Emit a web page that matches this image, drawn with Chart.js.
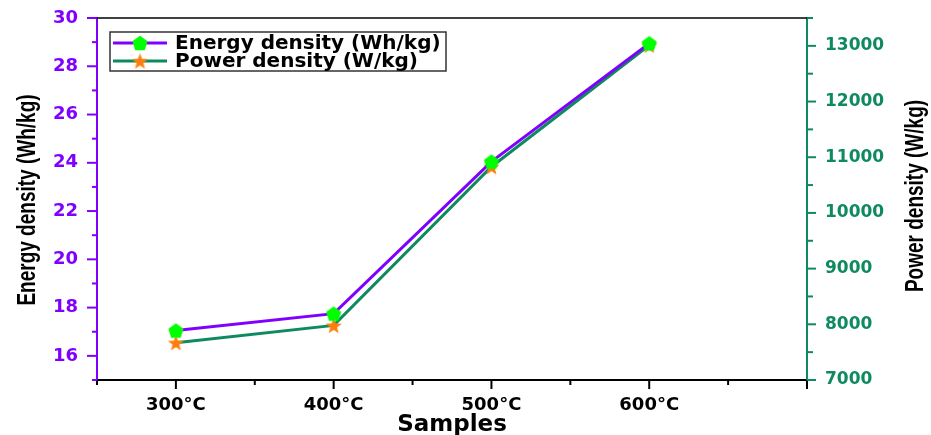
<!DOCTYPE html>
<html>
<head>
<meta charset="utf-8">
<script src="https://cdn.jsdelivr.net/npm/chart.js@4/dist/chart.umd.min.js"></script>
<style>
  html, body { margin: 0; padding: 0; background: #ffffff; }
  #wrap { width: 931px; height: 435px; }
</style>
</head>
<body>
<div id="wrap"><canvas id="c" width="931" height="435"></canvas></div>
<script>
// ---- data ----
const categories = ['300°C', '400°C', '500°C', '600°C'];
const categoryPositions = [1, 2, 3, 4];
const energyDensity = [17.05, 17.75, 24.05, 28.95];      // Wh/kg (left axis)
const powerDensity = [7670, 7980, 10830, 13010];        // W/kg (right axis)
const energyLabel = 'Energy density (Wh/kg)';
const powerLabel = 'Power density (W/kg)';

const PURPLE = '#8000FF';
const TEAL = '#0E8A5E';
const GREEN_MARK = '#00FF00';
const ORANGE_MARK = '#FF7F0E';
const TICK_FONT = "'DejaVu Sans', sans-serif";
const TITLE_FONT = "'Liberation Sans', Arial, sans-serif";

function makePentagon(r, color) {
  const s = Math.ceil(r * 2 + 2);
  const cv = document.createElement('canvas');
  cv.width = s; cv.height = s;
  const g = cv.getContext('2d');
  g.fillStyle = color;
  g.beginPath();
  for (let i = 0; i < 5; i++) {
    const a = -Math.PI / 2 + i * 2 * Math.PI / 5;
    const x = s / 2 + r * Math.cos(a), y = s / 2 + r * Math.sin(a) + r * 0.1;
    i ? g.lineTo(x, y) : g.moveTo(x, y);
  }
  g.closePath(); g.fill();
  return cv;
}
function makeStar(r, color) {
  const s = Math.ceil(r * 2 + 2);
  const cv = document.createElement('canvas');
  cv.width = s; cv.height = s;
  const g = cv.getContext('2d');
  g.fillStyle = color;
  g.beginPath();
  for (let i = 0; i < 10; i++) {
    const rr = i % 2 ? r * 0.42 : r;
    const a = -Math.PI / 2 + i * Math.PI / 5;
    const x = s / 2 + rr * Math.cos(a), y = s / 2 + rr * Math.sin(a) + r * 0.1;
    i ? g.lineTo(x, y) : g.moveTo(x, y);
  }
  g.closePath(); g.fill();
  return cv;
}
const pentImg = makePentagon(8, GREEN_MARK);
const starImg = makeStar(8.5, ORANGE_MARK);

const energyPoints = categoryPositions.map((x, i) => ({ x, y: energyDensity[i] }));
const powerPoints = categoryPositions.map((x, i) => ({ x, y: powerDensity[i] }));

function drawVerticalTitle(ctx, text, cx, cy) {
  ctx.save();
  ctx.fillStyle = '#000';
  ctx.font = "bold 19px " + TITLE_FONT;
  ctx.textAlign = 'center'; ctx.textBaseline = 'middle';
  ctx.translate(cx, cy);
  ctx.rotate(-Math.PI / 2);
  ctx.scale(1, 1.4);
  ctx.fillText(text, 0, 0);
  ctx.restore();
}

// custom tick marks (major + minor), top frame, axis titles, in-plot legend
const decorPlugin = {
  id: 'decor',
  afterDraw(chart) {
    const ctx = chart.ctx;
    const ca = chart.chartArea;
    const xs = chart.scales.x, yl = chart.scales.y, yr = chart.scales.y1;
    ctx.save();
    // top frame
    ctx.strokeStyle = '#000'; ctx.lineWidth = 1.5;
    ctx.beginPath(); ctx.moveTo(ca.left, ca.top); ctx.lineTo(ca.right, ca.top); ctx.stroke();
    // x ticks
    ctx.lineWidth = 2; ctx.strokeStyle = '#000';
    for (let v = xs.min; v <= xs.max + 1e-9; v += 0.5) {
      const px = xs.getPixelForValue(v);
      const len = Number.isInteger(v) ? 9 : 5;
      ctx.beginPath(); ctx.moveTo(px, ca.bottom); ctx.lineTo(px, ca.bottom + len); ctx.stroke();
    }
    // left y ticks
    ctx.strokeStyle = PURPLE;
    for (let v = yl.min; v <= yl.max + 1e-9; v += 1) {
      const py = yl.getPixelForValue(v);
      const len = v % 2 === 0 ? 10 : 5;
      ctx.beginPath(); ctx.moveTo(ca.left, py); ctx.lineTo(ca.left - len, py); ctx.stroke();
    }
    // right y ticks
    ctx.strokeStyle = TEAL;
    for (let v = yr.min; v <= yr.max + 1e-9; v += 500) {
      const py = yr.getPixelForValue(v);
      const len = v % 1000 === 0 ? 9 : 6;
      ctx.beginPath(); ctx.moveTo(ca.right, py); ctx.lineTo(ca.right + len, py); ctx.stroke();
    }
    ctx.restore();

    // vertical axis titles (both read bottom-to-top)
    drawVerticalTitle(ctx, energyLabel, yl.left + 28, (ca.top + ca.bottom) / 2 + 1);
    drawVerticalTitle(ctx, powerLabel, yr.right - 15, (ca.top + ca.bottom) / 2 - 3);

    // legend
    ctx.save();
    const bx = ca.left + 13, by = ca.top + 14, bw = 336, bh = 39;
    ctx.strokeStyle = '#333'; ctx.lineWidth = 1.5;
    ctx.strokeRect(bx, by, bw, bh);
    const rows = [
      { label: energyLabel, color: PURPLE, img: pentImg, y: by + 11 },
      { label: powerLabel, color: TEAL, img: starImg, y: by + 29 }
    ];
    ctx.font = "bold 20px " + TICK_FONT;
    ctx.textBaseline = 'middle'; ctx.textAlign = 'left';
    rows.forEach(r => {
      ctx.strokeStyle = r.color; ctx.lineWidth = 3;
      ctx.beginPath(); ctx.moveTo(bx + 3, r.y); ctx.lineTo(bx + 57, r.y); ctx.stroke();
      ctx.drawImage(r.img, bx + 30 - r.img.width / 2, r.y - r.img.height / 2);
      ctx.fillStyle = '#000';
      ctx.fillText(r.label, bx + 65, r.y + 1);
    });
    ctx.restore();
  }
};

const zeroPad = (s) => { s.paddingTop = 0; s.paddingBottom = 0; };

new Chart(document.getElementById('c'), {
  type: 'line',
  data: {
    datasets: [
      {
        label: energyLabel,
        data: energyPoints,
        yAxisID: 'y',
        borderColor: PURPLE,
        borderWidth: 3,
        pointStyle: pentImg,
        pointRadius: 8,
        tension: 0
      },
      {
        label: powerLabel,
        data: powerPoints,
        yAxisID: 'y1',
        borderColor: TEAL,
        borderWidth: 3,
        pointStyle: starImg,
        pointRadius: 8,
        tension: 0
      }
    ]
  },
  options: {
    responsive: false,
    animation: false,
    events: [],
    layout: { padding: { top: 18, left: 0, right: 0, bottom: 0 } },
    plugins: { legend: { display: false }, tooltip: { enabled: false } },
    scales: {
      x: {
        type: 'linear',
        min: 0.5, max: 5,
        grid: { display: false, drawTicks: false },
        border: { display: true, color: '#000', width: 2 },
        ticks: {
          stepSize: 0.5,
          autoSkip: false,
          padding: 15,
          color: '#000',
          font: { family: TICK_FONT, size: 18, weight: 'bold' },
          maxRotation: 0,
          callback: (v) => {
            const i = categoryPositions.indexOf(v);
            return i >= 0 ? categories[i] : '';
          }
        },
        title: {
          display: true, text: 'Samples', color: '#000',
          font: { family: TICK_FONT, size: 23, weight: 'bold', lineHeight: 0.87 },
          padding: { top: 0, bottom: 0 }
        },
        afterFit: (s) => { s.height = 55; s.paddingLeft = 0; s.paddingRight = 0; }
      },
      y: {
        position: 'left',
        min: 15, max: 30,
        grid: { display: false, drawTicks: false },
        border: { display: true, color: PURPLE, width: 2 },
        ticks: {
          stepSize: 1,
          autoSkip: false,
          padding: 19,
          color: PURPLE,
          font: { family: TICK_FONT, size: 18, weight: 'bold' },
          callback: (v) => (v % 2 === 0 ? String(v) : '')
        },
        afterFit: (s) => { s.width = 97; zeroPad(s); }
      },
      y1: {
        position: 'right',
        min: 7000, max: 13500,
        grid: { display: false, drawTicks: false },
        border: { display: true, color: TEAL, width: 2 },
        ticks: {
          stepSize: 500,
          autoSkip: false,
          padding: 18,
          color: TEAL,
          font: { family: TICK_FONT, size: 17, weight: 'bold' },
          callback: (v) => (v % 1000 === 0 ? String(v) : '')
        },
        afterFit: (s) => { s.width = 124; zeroPad(s); }
      }
    }
  },
  plugins: [decorPlugin]
});
</script>
</body>
</html>
